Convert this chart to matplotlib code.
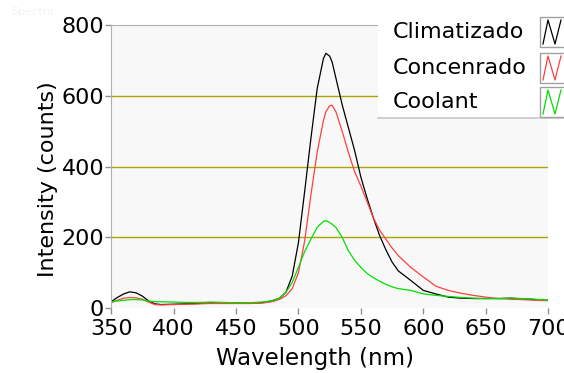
import matplotlib
matplotlib.use("Agg")
from matplotlib import pyplot as plt
from matplotlib.patches import Rectangle
from matplotlib.lines import Line2D

wavelength = [350, 355, 360, 365, 370, 375, 380, 385, 390, 400, 410, 420, 430, 440, 450,
              460, 470, 475, 480, 485, 490, 495, 500, 505, 510, 515, 520, 522, 525, 527,
              530, 535, 540, 545, 550, 555, 560, 565, 570, 575, 580, 590, 600, 610, 620,
              630, 640, 650, 660, 670, 680, 690, 700]

climatizado = [18, 30, 40, 46, 43, 34, 20, 12, 10, 11, 12, 13, 15, 14, 14,
               14, 15, 17, 22, 28, 45, 90, 185, 330, 480, 620, 705, 720, 712, 695,
               650, 575, 510, 445, 370, 310, 255, 205, 165, 130, 105, 78, 50, 40, 31,
               28, 27, 27, 27, 28, 26, 24, 22]

concenrado = [15, 22, 28, 30, 29, 25, 17, 10, 9, 10, 11, 12, 13, 13, 13,
              13, 14, 16, 19, 25, 35, 55, 100, 190, 320, 440, 530, 555, 572, 573,
              555, 500, 440, 385, 345, 300, 255, 220, 195, 170, 148, 115, 88, 62, 50,
              42, 36, 31, 27, 25, 24, 22, 21]

coolant = [18, 20, 22, 24, 24, 23, 20, 18, 18, 17, 16, 16, 17, 16, 15,
           15, 17, 19, 22, 28, 45, 72, 115, 160, 195, 228, 245, 247, 242, 237,
           228, 200, 162, 135, 115, 98, 86, 76, 67, 60, 55, 50, 40, 36, 33,
           30, 28, 27, 27, 28, 27, 25, 22]

series = [("Climatizado", climatizado, "#000000"),
          ("Concenrado", concenrado, "#ff4040"),
          ("Coolant", coolant, "#00e000")]

x_ticks = [350, 400, 450, 500, 550, 600, 650, 700]
y_ticks = [0, 200, 400, 600, 800]
grid_levels = [200, 400, 600]

plt.rcParams['font.family'] = ['DejaVu Sans']

fig = plt.figure(figsize=(5.64, 3.73), dpi=100)
ax = fig.add_axes([0.197, 0.174, 0.775, 0.759])
ax.set_facecolor("#f8f8f8")

for level in grid_levels:
    ax.axhline(level, color="#a8a400", linewidth=1.0, zorder=1)

for name, values, color in series:
    ax.plot(wavelength, values, color=color, linewidth=0.9, zorder=2)

ax.set_xlim(350, 700)
ax.set_ylim(0, 800)
ax.set_xticks(x_ticks)
ax.set_yticks(y_ticks)
ax.tick_params(axis="both", labelsize=16, color="#909090", length=4, width=1, pad=1)
ax.tick_params(axis="x", pad=4)

for side in ["bottom", "right"]:
    ax.spines[side].set_visible(False)
for side in ["left", "top"]:
    ax.spines[side].set_color("#b0b0b0")

ax.set_xlabel("Wavelength (nm)", fontsize=16.5)
ax.set_ylabel("Intensity (counts)", fontsize=16)
ax.xaxis.set_label_coords(0.467, -0.138)
ax.yaxis.set_label_coords(-0.121, 0.456)

fig.text(0.02, 0.96, "Spectra", fontsize=8, color="#f2f2f2")

# legend box drawn over the top right corner
W, H = 564.0, 373.0
fig.patches.append(Rectangle((378 / W, 1 - 118 / H), 1 - 378 / W, 118 / H,
                             transform=fig.transFigure, facecolor="white",
                             edgecolor="none", zorder=5))
fig.lines.append(Line2D([378 / W, 1], [1 - 118 / H] * 2, transform=fig.transFigure,
                        color="#c8c8c8", linewidth=1.2, zorder=6))
rows = [32, 68, 102]
for (name, values, color), yc in zip(series, rows):
    fig.text(393 / W, 1 - yc / H, name, fontsize=16, va="center", ha="left", zorder=7)
    top, bot = yc - 15, yc + 15
    fig.patches.append(Rectangle((540 / W, 1 - bot / H), 30 / W, 30 / H,
                                 transform=fig.transFigure, facecolor="white",
                                 edgecolor="#a0a0a0", linewidth=1, zorder=6))
    zx = [543, 548, 555, 561]
    zy = [bot - 3, top + 3, bot - 3, top + 3]
    fig.lines.append(Line2D([v / W for v in zx], [1 - v / H for v in zy],
                            transform=fig.transFigure, color=color,
                            linewidth=0.9, zorder=7))

fig.savefig("out.png", dpi=100)
